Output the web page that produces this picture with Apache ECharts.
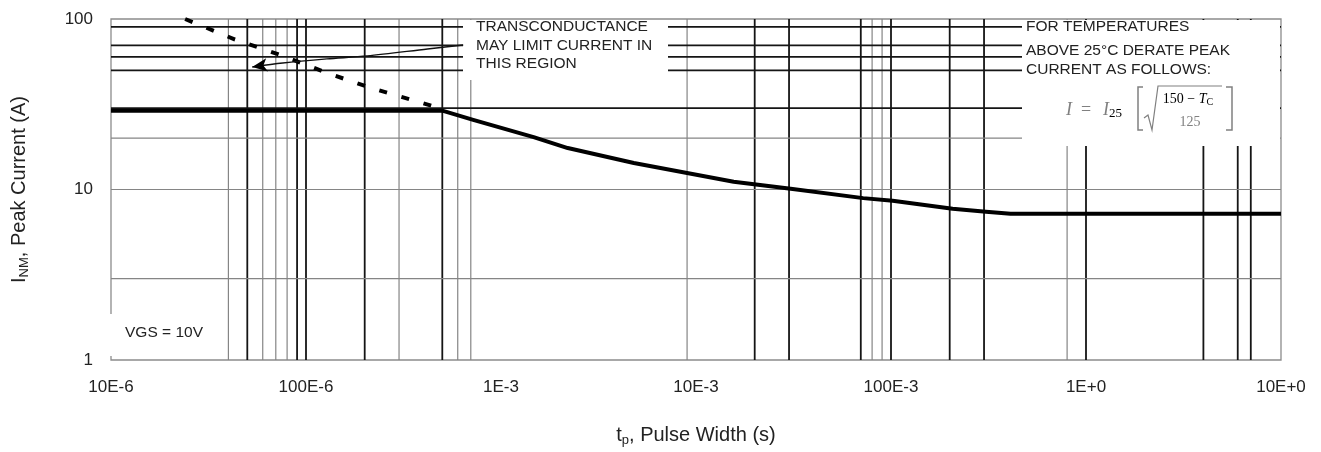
<!DOCTYPE html>
<html><head><meta charset="utf-8">
<script src="https://cdn.jsdelivr.net/npm/echarts@6/dist/echarts.min.js"></script>
<style>html,body{margin:0;padding:0;background:#fff}#c{width:1321px;height:452px}</style>
</head><body><div id="c"></div>
<script>
// ---- data ----
const xTickLabels = ['10E-6', '100E-6', '1E-3', '10E-3', '100E-3', '1E+0', '10E+0'];
const yTickLabels = ['1', '10', '100'];
// peak current curve (tp in s, I in A)
const peakWidth   = [1e-5, 5.0e-4, 7.2e-4, 1.47e-3, 2.2e-3, 4.8e-3, 9.0e-3, 1.56e-2, 3.06e-2, 7.2e-2, 1.02e-1, 2.07e-1, 3.07e-1, 4.1e-1, 10];
const peakCurrent = [29,     29,     25.6,   20.3,    17.5,   14.3,   12.5,   11.1,    10.1,    8.9,    8.6,     7.7,     7.4,     7.2,    7.2];
// transconductance limit (dashed)
const gmWidth   = [2.4e-5, 4.3e-5, 7.4e-5, 1.3e-4, 2.15e-4, 3.8e-4, 4.4e-4];
const gmCurrent = [100,    76,     61.5,   48,     39.4,    32.6,   31];
// annotation arrow path
const arrowWidth   = [6.4e-4, 4.2e-4, 2.06e-4, 1.28e-4, 7.6e-5, 5.3e-5];
const arrowCurrent = [70.4,   66.7,   60.7,    58.3,    55.2,   52.3];
// chart-paper grid lines
const vGridDark  = [5e-5, 9e-5, 1e-4, 2e-4, 5e-4, 2e-2, 3e-2, 7e-2, 0.1, 0.2, 0.3, 1, 4, 6, 7];
const vGridLight = [4e-5, 6e-5, 7e-5, 8e-5, 3e-4, 6e-4, 7e-4, 9e-3, 8e-2, 9e-2, 0.8];
const hGridDark  = [90, 70, 60, 50, 30];
const hGridLight = [20, 10, 3];

const X_MIN = 1e-5, X_MAX = 10, Y_MIN = 1, Y_MAX = 100;
const FONT = '"Liberation Sans", Arial, sans-serif';
const SERIF = '"Liberation Serif", "DejaVu Serif", serif';

function vLine(color, width) {
  return function (params, api) {
    const x = api.value(0);
    const a = api.coord([x, Y_MIN]), b = api.coord([x, Y_MAX]);
    return { type: 'line', shape: { x1: a[0], y1: a[1], x2: b[0], y2: b[1] }, style: { stroke: color, lineWidth: width } };
  };
}
function hLine(color, width) {
  return function (params, api) {
    const y = api.value(1);
    const a = api.coord([X_MIN, y]), b = api.coord([X_MAX, y]);
    return { type: 'line', shape: { x1: a[0], y1: a[1], x2: b[0], y2: b[1] }, style: { stroke: color, lineWidth: width } };
  };
}

const DARK = '#151515', LIGHT = '#858585';
const arrowData = arrowWidth.map((x, i) => [x, arrowCurrent[i]]);
arrowData[arrowData.length - 1] = { value: arrowData[arrowData.length - 1], symbol: 'arrow', symbolSize: [10, 15], symbolRotate: 98 };

const chart = echarts.init(document.getElementById('c'));
chart.setOption({
  animation: false,
  backgroundColor: '#fff',
  grid: { left: 111, right: 40, top: 19, bottom: 92, show: true, borderColor: '#8c8c8c', borderWidth: 1.3, backgroundColor: 'transparent' },
  xAxis: {
    type: 'log', logBase: 10, min: X_MIN, max: X_MAX,
    axisLine: { show: false }, axisTick: { show: false }, splitLine: { show: false },
    axisLabel: { margin: 19, fontSize: 17, color: '#222', fontFamily: FONT,
      formatter: v => xTickLabels[Math.round(Math.log10(v)) + 5] },
    name: '{m|t}{s|p}{m|, Pulse Width (s)}', nameLocation: 'middle', nameGap: 64,
    nameTextStyle: { rich: {
      m: { fontSize: 20, fontFamily: FONT, color: '#222' },
      s: { fontSize: 13, fontFamily: FONT, color: '#222', padding: [10, 0, 0, 0] } } }
  },
  yAxis: {
    type: 'log', logBase: 10, min: Y_MIN, max: Y_MAX,
    axisLine: { show: false }, axisTick: { show: false }, splitLine: { show: false },
    axisLabel: { margin: 18, fontSize: 17, color: '#222', fontFamily: FONT,
      formatter: v => yTickLabels[Math.round(Math.log10(v))] },
    name: '{m|I}{s|NM}{m|, Peak Current (A)}', nameLocation: 'middle', nameGap: 80,
    nameTextStyle: { rich: {
      m: { fontSize: 20, fontFamily: FONT, color: '#222' },
      s: { fontSize: 13, fontFamily: FONT, color: '#222', padding: [10, 0, 0, 0] } } }
  },
  series: [
    { type: 'custom', z: 1, silent: true, renderItem: vLine(LIGHT, 1.2), encode: { x: 0, y: 1 }, data: vGridLight.map(v => [v, Y_MIN]) },
    { type: 'custom', z: 1, silent: true, renderItem: vLine(DARK, 1.8), encode: { x: 0, y: 1 }, data: vGridDark.map(v => [v, Y_MIN]) },
    { type: 'custom', z: 1, silent: true, renderItem: hLine(LIGHT, 1.2), encode: { x: 0, y: 1 }, data: hGridLight.map(v => [X_MIN, v]) },
    { type: 'custom', z: 1, silent: true, renderItem: hLine(DARK, 1.8), encode: { x: 0, y: 1 }, data: hGridDark.map(v => [X_MIN, v]) },
    { type: 'line', z: 5, silent: true, symbol: 'none', data: peakWidth.map((x, i) => [x, peakCurrent[i]]),
      lineStyle: { color: '#000', width: 4, join: 'round' } },
    { type: 'line', z: 5, silent: true, symbol: 'none', data: gmWidth.map((x, i) => [x, gmCurrent[i]]),
      lineStyle: { color: '#000', width: 4, type: [8, 15], cap: 'butt' } },
    { type: 'line', z: 5, silent: true, symbol: 'none', smooth: 0.3, data: arrowData,
      lineStyle: { color: '#111', width: 1.3 }, itemStyle: { color: '#000' } }
  ],
  graphic: [
    { type: 'rect', z: 3, silent: true, shape: { x: 463, y: 20, width: 205, height: 60 }, style: { fill: '#fff' } },
    { type: 'rect', z: 3, silent: true, shape: { x: 1022, y: 20, width: 258, height: 126 }, style: { fill: '#fff' } },
    { type: 'rect', z: 3, silent: true, shape: { x: 100, y: 314, width: 120, height: 42 }, style: { fill: '#fff' } },
    { type: 'text', z: 6, x: 476, y: 27, style: { text: 'TRANSCONDUCTANCE', fontSize: 15.5, fontFamily: FONT, fill: '#222', verticalAlign: 'middle' } },
    { type: 'text', z: 6, x: 476, y: 46, style: { text: 'MAY LIMIT CURRENT IN', fontSize: 15.5, fontFamily: FONT, fill: '#222', verticalAlign: 'middle' } },
    { type: 'text', z: 6, x: 476, y: 64, style: { text: 'THIS REGION', fontSize: 15.5, fontFamily: FONT, fill: '#222', verticalAlign: 'middle' } },
    { type: 'text', z: 6, x: 1026, y: 27, style: { text: 'FOR TEMPERATURES', fontSize: 15.5, fontFamily: FONT, fill: '#222', verticalAlign: 'middle' } },
    { type: 'text', z: 6, x: 1026, y: 51, style: { text: 'ABOVE 25°C DERATE PEAK', fontSize: 15.5, fontFamily: FONT, fill: '#222', verticalAlign: 'middle' } },
    { type: 'text', z: 6, x: 1026, y: 70, style: { text: 'CURRENT AS FOLLOWS:', fontSize: 15.5, fontFamily: FONT, fill: '#222', verticalAlign: 'middle' } },
    { type: 'text', z: 6, x: 125, y: 333, style: { text: 'VGS = 10V', fontSize: 15.5, fontFamily: FONT, fill: '#222', verticalAlign: 'middle' } },
    // derating formula
    { type: 'text', z: 6, x: 1066, y: 110, style: { text: 'I', fontSize: 18, fontFamily: SERIF, fontStyle: 'italic', fill: '#808080', verticalAlign: 'middle' } },
    { type: 'text', z: 6, x: 1081, y: 110, style: { text: '=', fontSize: 18, fontFamily: SERIF, fill: '#808080', verticalAlign: 'middle' } },
    { type: 'text', z: 6, x: 1103, y: 110, style: { text: '{i|I}{s|25}', verticalAlign: 'middle',
      rich: { i: { fontSize: 18, fontFamily: SERIF, fontStyle: 'italic', fill: '#808080', color: '#808080' },
              s: { fontSize: 13, fontFamily: SERIF, color: '#808080', padding: [8, 0, 0, 0] } } } },
    { type: 'polyline', z: 6, shape: { points: [[1143, 87], [1138, 87], [1138, 130], [1143, 130]] }, style: { stroke: '#808080', lineWidth: 1.5, fill: null } },
    { type: 'polyline', z: 6, shape: { points: [[1144, 118], [1148, 115], [1152, 130], [1158, 86], [1222, 86]] }, style: { stroke: '#808080', lineWidth: 1.2, fill: null } },
    { type: 'text', z: 6, x: 1188, y: 99, style: { text: '{n|150 − }{i|T}{s|C}', align: 'center', verticalAlign: 'middle',
      rich: { n: { fontSize: 14, fontFamily: SERIF, color: '#808080' },
              i: { fontSize: 14, fontFamily: SERIF, fontStyle: 'italic', color: '#808080' },
              s: { fontSize: 10, fontFamily: SERIF, color: '#808080', padding: [6, 0, 0, 0] } } } },
    { type: 'text', z: 6, x: 1190, y: 122, style: { text: '125', fontSize: 14, fontFamily: SERIF, fill: '#808080', align: 'center', verticalAlign: 'middle' } },
    { type: 'polyline', z: 6, shape: { points: [[1226, 87], [1232, 87], [1232, 130], [1226, 130]] }, style: { stroke: '#808080', lineWidth: 1.5, fill: null } }
  ]
});
</script></body></html>
